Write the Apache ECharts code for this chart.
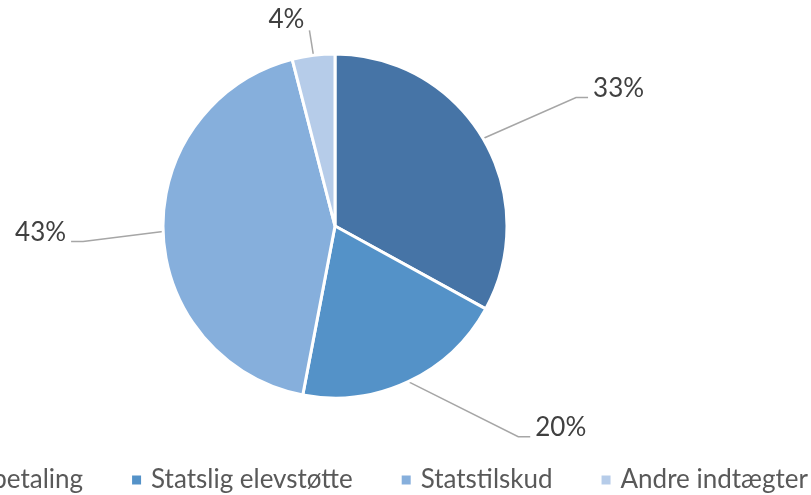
<!DOCTYPE html>
<html>
<head>
<meta charset="utf-8">
<script src="https://cdn.jsdelivr.net/npm/echarts@6/dist/echarts.min.js"></script>
<style>
  html, body { margin: 0; padding: 0; background: #fff; }
  #chart { width: 811px; height: 495px; }
</style>
</head>
<body>
<div id="chart"></div>
<script>
// data
var names = ['Forældrebetaling', 'Statslig elevstøtte', 'Statstilskud', 'Andre indtægter'];
var shares = [33, 20, 43, 4];
var colors = ['#4674a6', '#5492c8', '#86afdc', '#b6cce9'];

// label guide lines: knee offset from slice edge, and horizontal tail
var kneeOffset = [[93, -41], [110, 55], [-80, 10], [-4, -25]];
var tailLength = [12, 12, 12, 0];

var font = 'Lato, "Noto Sans", sans-serif';

var chartDom = document.getElementById('chart');
var myChart = echarts.init(chartDom);

var option = {
    animation: false,
    color: colors,
    legend: {
        data: names,
        right: 3,
        top: 467,
        width: 1200,
        padding: 0,
        itemWidth: 11,
        itemHeight: 11,
        itemGap: 47,
        icon: 'rect',
        selectedMode: false,
        textStyle: {
            fontFamily: font,
            fontSize: 26,
            color: '#595959',
            padding: [0, 0, 0, 4]
        }
    },
    series: [
        {
            type: 'pie',
            center: [335, 226],
            radius: 172,
            startAngle: 90,
            clockwise: true,
            percentPrecision: 0,
            silent: true,
            itemStyle: {
                borderColor: '#ffffff',
                borderWidth: 3
            },
            label: {
                show: true,
                position: 'outside',
                formatter: '{d}%',
                fontFamily: font,
                fontSize: 26,
                color: '#404040'
            },
            labelLine: {
                show: true,
                length: 20,
                length2: 10,
                lineStyle: { color: '#a6a6a6', width: 1.5 }
            },
            labelLayout: function (p) {
                var a = p.labelLinePoints[0];
                var k = kneeOffset[p.dataIndex];
                var dir = k[0] < 0 ? -1 : 1;
                var knee = [a[0] + k[0], a[1] + k[1]];
                var end = [knee[0] + dir * tailLength[p.dataIndex], knee[1]];
                var lift = tailLength[p.dataIndex] ? 9 : 11;
                return {
                    x: end[0] + dir * 5,
                    y: end[1] - lift,
                    align: dir < 0 ? 'right' : 'left',
                    verticalAlign: 'middle',
                    labelLinePoints: [a, knee, end]
                };
            },
            data: names.map(function (n, i) {
                return { name: n, value: shares[i] };
            })
        }
    ]
};

myChart.setOption(option);
</script>
</body>
</html>
